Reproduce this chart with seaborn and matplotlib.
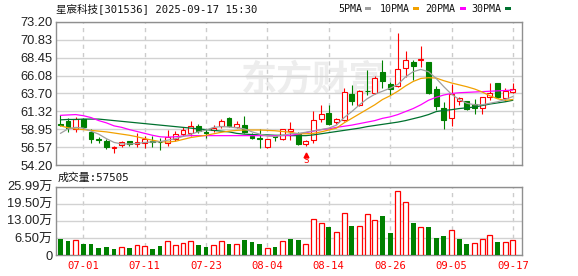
import numpy as np
import pandas as pd
import matplotlib
matplotlib.use("Agg")
import matplotlib.pyplot as plt
from matplotlib.patches import Rectangle
import seaborn as sns

# ---------------- data ----------------
dates = ["06-26", "06-27", "06-30", "07-01", "07-02", "07-03", "07-04", "07-07", "07-08", "07-09",
         "07-10", "07-11", "07-14", "07-15", "07-16", "07-17", "07-18", "07-21", "07-22", "07-23",
         "07-24", "07-25", "07-28", "07-29", "07-30", "07-31", "08-01", "08-04", "08-05", "08-06",
         "08-07", "08-08", "08-11", "08-12", "08-13", "08-14", "08-15", "08-18", "08-19", "08-20",
         "08-21", "08-22", "08-25", "08-26", "08-27", "08-28", "08-29", "09-01", "09-02", "09-03",
         "09-04", "09-05", "09-08", "09-09", "09-10", "09-11", "09-12", "09-15", "09-16", "09-17"]

open_ = [59.6, 60.1, 58.98, 60.27, 58.65, 57.65, 57.4, 56.5, 56.8, 57.35,
         56.98, 57.1, 57.4, 57.3, 57.17, 57.6, 58.3, 58.4, 59.35, 58.55,
         58.8, 59.4, 60.5, 59.3, 59.45, 58.1, 57.8, 56.64, 58.0, 57.6,
         58.75, 58.3, 56.95, 57.5, 60.35, 61.1, 59.9, 60.2, 63.6, 62.15,
         64.05, 63.8, 66.6, 64.9, 64.7, 67.05, 67.9, 68.15, 67.85, 64.35,
         61.8, 60.4, 62.75, 62.65, 62.3, 61.73, 63.3, 65.05, 63.06, 63.94]
high = [60.85, 60.4, 60.55, 60.4, 59.0, 57.95, 57.6, 56.75, 57.4, 57.45,
        58.4, 58.1, 58.1, 57.75, 58.9, 58.7, 59.3, 60.0, 59.6, 58.95,
        59.5, 60.3, 60.6, 60.0, 60.7, 58.5, 59.0, 57.7, 58.1, 59.0,
        59.9, 58.6, 57.5, 61.35, 62.2, 62.2, 60.5, 64.45, 64.8, 64.2,
        66.8, 66.0, 68.1, 65.2, 71.8, 69.4, 68.2, 70.0, 67.9, 64.75,
        62.6, 65.0, 63.3, 62.75, 63.0, 63.3, 65.05, 65.15, 64.4, 65.1]
low = [59.4, 58.6, 58.65, 59.0, 57.1, 57.1, 56.3, 55.85, 56.65, 56.7,
       56.65, 56.4, 56.6, 56.2, 56.7, 57.4, 58.0, 58.1, 58.5, 57.75,
       58.6, 59.1, 59.2, 59.1, 58.5, 57.6, 56.5, 56.5, 57.4, 57.5,
       57.5, 56.9, 56.7, 57.1, 59.9, 59.5, 59.6, 60.0, 62.2, 62.0,
       63.55, 63.6, 64.4, 63.55, 64.5, 65.9, 65.5, 67.2, 63.6, 61.5,
       59.0, 59.4, 62.2, 61.5, 61.0, 61.0, 62.85, 63.05, 62.75, 63.7]
close = [59.5, 59.1, 60.27, 59.3, 57.6, 57.55, 56.65, 56.6, 57.3, 56.95,
         57.25, 57.6, 57.3, 57.25, 57.87, 58.3, 58.85, 59.4, 58.7, 58.45,
         59.1, 60.05, 59.4, 59.6, 58.65, 57.75, 57.7, 57.6, 57.9, 58.94,
         58.95, 57.05, 57.35, 60.15, 61.0, 59.65, 60.3, 63.85, 62.7, 64.0,
         64.0, 65.75, 65.4, 64.25, 66.9, 68.2, 67.35, 68.3, 63.75, 62.0,
         60.2, 63.6, 63.1, 61.6, 61.8, 63.2, 63.75, 63.2, 64.0, 64.3]

# volume in 万 (10k shares)
volume = [6.1, 5.5, 5.7, 4.2, 4.2, 2.7, 3.0, 2.3, 2.9, 2.7,
          3.7, 3.3, 2.3, 3.4, 5.3, 3.8, 4.6, 5.2, 3.8, 3.0,
          3.7, 5.3, 4.2, 4.2, 5.7, 4.9, 4.2, 2.7, 3.0, 5.3,
          6.1, 5.7, 4.1, 13.6, 12.2, 10.7, 8.8, 16.0, 11.0, 11.0,
          15.6, 13.3, 14.8, 8.4, 24.2, 20.1, 12.2, 10.7, 10.7, 6.5,
          7.2, 9.5, 6.1, 4.2, 4.6, 6.1, 7.5, 4.9, 4.9, 5.75]
volume_dir = list("GGRGGGGGRG" "RRGGRRRRGG" "RRGRGGGRGR" "GGRRRGRRGR" "RRGGRRGRGG" "GRGGRRRGRR")

ma5 = [58.4, 59.0, 59.2, 59.1, 58.7, 58.3, 57.7, 57.2, 57.0, 57.0,
       57.05, 57.2, 57.25, 57.3, 57.5, 57.7, 58.0, 58.3, 58.6, 58.85,
       59.2, 59.3, 59.25, 59.15, 59.0, 58.6, 58.3, 58.05, 58.0, 58.15,
       58.35, 58.4, 58.55, 58.75, 58.9, 59.1, 59.5, 60.5, 61.3, 62.2,
       63.0, 63.6, 64.0, 64.4, 64.9, 65.9, 66.6, 66.9, 66.6, 65.7,
       64.6, 63.6, 62.9, 62.4, 62.2, 62.2, 62.4, 62.6, 62.9, 63.3]
ma10 = [59.4, 59.15, 59.0, 58.9, 58.8, 58.7, 58.6, 58.45, 58.3, 58.15,
        57.95, 57.7, 57.5, 57.3, 57.25, 57.35, 57.6, 57.85, 58.0, 58.15,
        58.35, 58.55, 58.7, 58.8, 58.85, 58.85, 58.85, 58.8, 58.75, 58.65,
        58.55, 58.35, 58.35, 58.4, 58.6, 58.85, 59.1, 59.8, 60.4, 61.0,
        61.6, 62.2, 62.9, 63.4, 64.0, 64.7, 65.3, 65.7, 65.8, 65.75,
        65.4, 65.1, 64.85, 64.6, 64.3, 63.9, 63.4, 63.0, 62.8, 62.9]
ma20 = [60.8, 60.85, 60.9, 60.75, 60.5, 60.1, 59.8, 59.4, 59.2, 58.9,
        58.65, 58.4, 58.15, 57.95, 57.9, 57.95, 58.05, 58.1, 58.1, 58.1,
        58.1, 58.1, 58.1, 58.1, 58.1, 58.1, 58.1, 58.1, 58.1, 58.1,
        58.15, 58.3, 58.5, 58.7, 58.9, 59.0, 59.2, 59.35, 59.5, 59.7,
        59.9, 60.1, 60.4, 60.6, 60.9, 61.3, 61.7, 62.2, 62.8, 63.2,
        63.5, 63.7, 63.8, 63.85, 63.9, 63.95, 64.0, 64.05, 64.1, 64.15]
ma30 = [60.2, 60.25, 60.25, 60.3, 60.3, 60.3, 60.2, 60.1, 60.0, 59.9,
        59.8, 59.7, 59.6, 59.5, 59.4, 59.3, 59.2, 59.1, 59.0, 58.9,
        58.8, 58.7, 58.6, 58.4, 58.3, 58.25, 58.2, 58.2, 58.15, 58.15,
        58.1, 58.1, 58.1, 58.2, 58.35, 58.5, 58.65, 58.8, 58.95, 59.1,
        59.3, 59.45, 59.6, 59.75, 59.9, 60.1, 60.35, 60.6, 60.9, 61.3,
        61.45, 61.55, 61.7, 61.8, 61.9, 62.1, 62.3, 62.45, 62.6, 62.8]

price_ticks = [73.20, 70.83, 68.45, 66.08, 63.70, 61.32, 58.95, 56.57, 54.20]
price_labels = ["73.20", "70.83", "68.45", "66.08", "63.70", "61.32", "58.95", "56.57", "54.20"]
vol_ticks = [0, 6.5, 13.0, 19.5, 25.99]
vol_labels = ["0", "6.50万", "13.00万", "19.50万", "25.99万"]
date_ticks = ["07-01", "07-11", "07-23", "08-04", "08-14", "08-26", "09-05", "09-17"]
title_name = "星宸科技"
title_rest = "[301536] 2025-09-17 15:30"
vol_title = "成交量:57505"
ma_names = ["5PMA", "10PMA", "20PMA", "30PMA"]
signal_index = 32

# ---------------- style ----------------
RED = "#ff0000"
GREEN = "#008000"
MA_COLORS = ["#a0a0a0", "#f2a100", "#ff00ff", "#00712f"]
GRID = "#d2d2d2"
SPINE = "#8f8f8f"

sns.set_theme(style="white")
plt.rcParams["font.family"] = ["Liberation Sans", "Noto Sans CJK SC", "DejaVu Sans"]
MONO = ["DejaVu Sans Mono", "Noto Sans CJK SC"]
LAB = ["Liberation Sans", "Noto Sans CJK SC"]

W, H = 578, 276
fig = plt.figure(figsize=(W / 100, H / 100), dpi=100)
ax = fig.add_axes([56 / W, 1 - 165 / H, 466 / W, 143 / H])
axv = fig.add_axes([56 / W, 1 - 255 / H, 466 / W, 68.3 / H])

n = len(dates)
idx = np.arange(n)
o = np.array(open_); c = np.array(close); hi = np.array(high); lo = np.array(low)
up = c >= o

# watermark
ax.text(33, 65.5, "东方财富", fontsize=26, fontweight="bold", color="#ededed",
        ha="center", va="center", family=["Noto Sans CJK SC"], zorder=0)

# candles
line_cols = [RED if u else GREEN for u in up]
ax.vlines(idx, lo, hi, colors=line_cols, linewidth=0.8, zorder=3)
body_h = np.maximum(np.abs(c - o), 0.05)
ax.bar(idx, body_h, bottom=np.minimum(o, c), width=0.62,
       color=["white" if u else GREEN for u in up],
       edgecolor=line_cols, linewidth=0.8, zorder=4)

# moving averages
for vals, col in zip([ma30, ma20, ma10, ma5], MA_COLORS[::-1]):
    sns.lineplot(x=idx, y=vals, ax=ax, color=col, linewidth=0.9, zorder=5)

# signal marker
ax.plot(signal_index, 55.55, marker="^", color=RED, markersize=3.5, zorder=6, clip_on=False)
ax.text(signal_index, 54.75, "S", color=RED, fontsize=6.5, ha="center", va="center",
        family=MONO, zorder=6)

ax.set_xlim(-0.57, 60.19)
ax.set_ylim(54.2, 73.2)
ax.set_yticks(price_ticks)
ax.set_yticklabels(price_labels, family=LAB, fontsize=9.3, color="#222222")
tick_pos = [dates.index(d) for d in date_ticks]
ax.set_xticks(tick_pos)
ax.set_xticklabels([])
ax.tick_params(axis="both", length=0, pad=2.5)
ax.yaxis.grid(True, color=GRID, linewidth=1, linestyle="-")
ax.xaxis.grid(True, color="#cccccc", linewidth=1, linestyle=(0, (3, 3)))
ax.set_axisbelow(True)
ax.set_xlabel(""); ax.set_ylabel("")
for s in ax.spines.values():
    s.set_color(SPINE); s.set_linewidth(1)

# volume
vdf = pd.DataFrame({"date": dates, "vol": volume, "dir": volume_dir})
sns.barplot(data=vdf, x="date", y="vol", hue="dir", palette={"R": "white", "G": GREEN},
            width=0.62, dodge=False, saturation=1, legend=False, ax=axv, zorder=3)
for p in axv.patches:
    fc = p.get_facecolor()
    if fc[0] > 0.9 and fc[1] > 0.9:
        p.set_edgecolor(RED); p.set_linewidth(0.9)
    else:
        p.set_edgecolor("none")
axv.set_xlim(-0.57, 60.19)
axv.set_ylim(0, 25.99)
axv.set_yticks(vol_ticks)
axv.set_yticklabels(vol_labels, family=LAB, fontsize=9.3, color="#222222")
axv.set_xticks(tick_pos)
axv.set_xticklabels(date_ticks, family=MONO, fontsize=7.6, color=RED)
axv.tick_params(axis="both", length=0)
axv.tick_params(axis="y", pad=2.5)
axv.tick_params(axis="x", pad=4)
axv.yaxis.grid(True, color=GRID, linewidth=1, linestyle="-")
axv.xaxis.grid(True, color="#cccccc", linewidth=1, linestyle=(0, (3, 3)))
axv.set_axisbelow(True)
axv.set_xlabel(""); axv.set_ylabel("")
for s in axv.spines.values():
    s.set_color(SPINE); s.set_linewidth(1)

# title + legend + volume title
fig.text(56 / W, 1 - 8.5 / H, title_name + title_rest, family=MONO, fontsize=7.6,
         color="#111111", ha="left", va="center")
fig.text(58 / W, 1 - 178 / H, vol_title, family=MONO, fontsize=7.8,
         color="#111111", ha="left", va="center")
leg_x = [338, 380, 425, 471.7]
sq_x = [365, 413.3, 460, 505]
for name, lx, sx, col in zip(ma_names, leg_x, sq_x, MA_COLORS):
    fig.text(lx / W, 1 - 8.5 / H, name, family=MONO, fontsize=7.2, color="#111111",
             ha="left", va="center")
    fig.patches.append(Rectangle((sx / W, 1 - 10 / H), 6 / W, 3 / H, transform=fig.transFigure,
                                 facecolor=col, edgecolor="none"))

fig.savefig("out.png", dpi=100)
